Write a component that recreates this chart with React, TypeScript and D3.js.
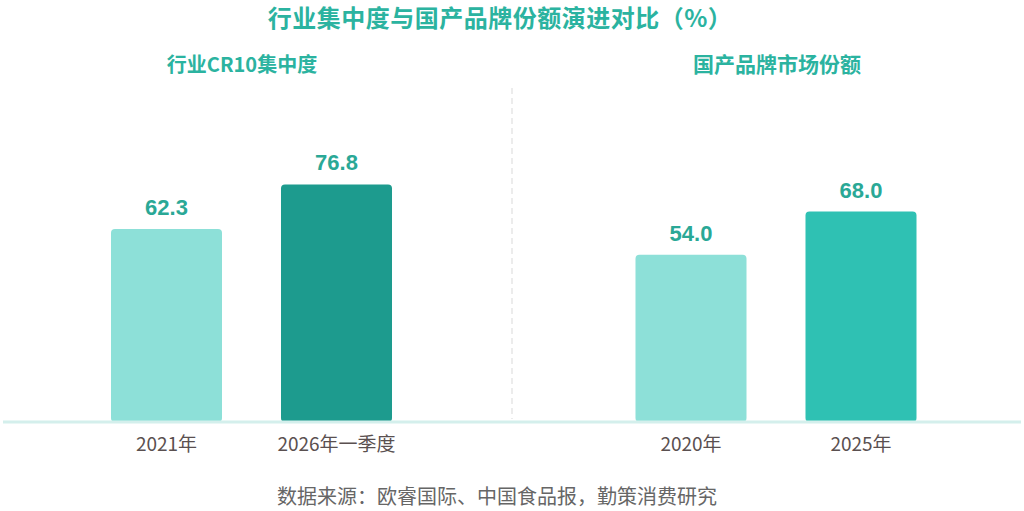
import React from 'react';
import * as d3 from 'd3';

// data
const leftCategories = ['2021年', '2026年一季度'];
const leftValues = [62.3, 76.8];
const rightCategories = ['2020年', '2025年'];
const rightValues = [54.0, 68.0];

const leftColors = ['#8de0d8', '#1d9b8e'];
const rightColors = ['#8de0d8', '#2fc1b3'];

const W = 1024;
const H = 511;
const baseY = 421;

const cjk = '"Noto Sans CJK SC", "Noto Sans", sans-serif';
const latin = '"Liberation Sans", Arial, sans-serif';

interface PanelProps {
  categories: string[];
  values: number[];
  colors: string[];
  range: [number, number];
  y: d3.ScaleLinear<number, number>;
}

const Panel: React.FC<PanelProps> = ({ categories, values, colors, range, y }) => {
  const x = d3.scaleBand<string>()
    .domain(categories)
    .range(range)
    .paddingInner(0.347)
    .paddingOuter(0.1735);

  return (
    <g>
      {categories.map((c, i) => {
        const x0 = x(c) ?? 0;
        const bw = x.bandwidth();
        const top = y(values[i]);
        return (
          <g key={c}>
            <rect x={x0} y={top} width={bw} height={baseY - top + 1} rx={4} fill={colors[i]} />
            <text
              x={x0 + bw / 2}
              y={top - 14}
              textAnchor="middle"
              fontFamily={latin}
              fontWeight="bold"
              fontSize={22}
              fill="#2aa896"
            >
              {values[i].toFixed(1)}
            </text>
            <text
              x={x0 + bw / 2}
              y={451}
              textAnchor="middle"
              fontFamily={cjk}
              fontSize={19}
              fill="#5a5050"
            >
              {c}
            </text>
          </g>
        );
      })}
    </g>
  );
};

const App: React.FC = () => {
  const y = d3.scaleLinear().domain([0, 100]).range([baseY, 113]);

  return (
    <div style={{ position: 'absolute', left: 0, top: 0 }}>
      <svg width={W} height={H} style={{ display: 'block', background: '#fff' }}>
        <text x={500} y={27} textAnchor="middle" fontFamily={cjk} fontWeight="bold" fontSize={24} fill="#2bb3a0" letterSpacing={0.5}>
          行业集中度与国产品牌份额演进对比（%）
        </text>
        <text x={242} y={72} textAnchor="middle" fontFamily={cjk} fontWeight="bold" fontSize={20} fill="#2bb3a0">
          行业CR10集中度
        </text>
        <text x={777} y={72} textAnchor="middle" fontFamily={cjk} fontWeight="bold" fontSize={21} fill="#2bb3a0">
          国产品牌市场份额
        </text>

        <line x1={512} x2={512} y1={88} y2={419} stroke="#e6e6e6" strokeWidth={1.5} strokeDasharray="6,4" />

        <Panel categories={leftCategories} values={leftValues} colors={leftColors} range={[81.5, 421.5]} y={y} />
        <Panel categories={rightCategories} values={rightValues} colors={rightColors} range={[606, 946]} y={y} />

        <line x1={3} x2={1021} y1={baseY + 1} y2={baseY + 1} stroke="#d4efec" strokeWidth={3} />

        <text x={497} y={504} textAnchor="middle" fontFamily={cjk} fontSize={20} fill="#666">
          数据来源：欧睿国际、中国食品报，勤策消费研究
        </text>
      </svg>
    </div>
  );
};

export default App;
